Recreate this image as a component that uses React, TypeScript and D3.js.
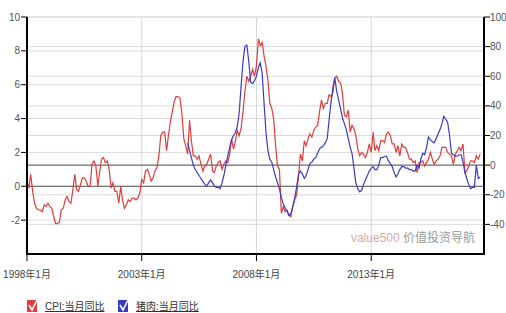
import React from "react";
import * as d3 from "d3";

// CPI 当月同比 (%), monthly from 1998-01 (left axis)
const CPI_START = new Date(1998, 0, 1);
const cpiValues = [
  0.3, -0.1, 0.7, -0.3, -1.0, -1.3, -1.4, -1.4, -1.5, -1.1, -1.2, -1.0,
  -1.2, -1.3, -1.8, -2.2, -2.2, -2.1, -1.4, -1.3, -0.8, -0.6, -0.9, -1.0,
  -0.2, 0.7, -0.2, -0.3, 0.1, 0.5, 0.5, 0.3, 0.0, 0.0, 1.3, 1.5,
  1.2, 0.0, 0.8, 1.6, 1.7, 1.4, 1.5, 1.0, -0.1, 0.2, -0.3, -0.3,
  -1.0, 0.0, -0.8, -1.3, -1.1, -0.8, -0.9, -0.7, -0.7, -0.8, -0.7, -0.4,
  0.4, 0.2, 0.9, 1.0, 0.7, 0.3, 0.5, 0.9, 1.1, 1.8, 3.0, 3.2,
  3.2, 2.1, 3.0, 3.8, 4.4, 5.0, 5.3, 5.3, 5.2, 4.3, 2.8, 2.4,
  1.9, 3.9, 2.7, 1.8, 1.8, 1.6, 1.8, 1.3, 0.9, 1.2, 1.3, 1.6,
  1.9, 0.9, 0.8, 1.2, 1.4, 1.5, 1.0, 1.3, 1.5, 1.4, 1.9, 2.8,
  2.2, 2.7, 3.3, 3.0, 3.4, 4.4, 5.6, 6.5, 6.2, 6.5, 6.9, 6.5,
  7.1, 8.7, 8.3, 8.5, 7.7, 7.1, 6.3, 4.9, 4.6, 4.0, 2.4, 1.2,
  1.0, -1.6, -1.2, -1.5, -1.4, -1.7, -1.8, -1.2, -0.8, -0.5, 0.6, 1.9,
  1.5, 2.7, 2.4, 2.8, 3.1, 2.9, 3.3, 3.5, 3.6, 4.4, 5.1, 4.6,
  4.9, 4.9, 5.4, 5.3, 5.5, 6.4, 6.5, 6.2, 6.1, 5.5, 4.2, 4.1,
  4.5, 3.2, 3.6, 3.4, 3.0, 2.2, 1.8, 2.0, 1.9, 1.7, 2.0, 2.5,
  2.0, 3.2, 2.1, 2.4, 2.1, 2.7, 2.7, 2.6, 3.1, 3.2, 3.0, 2.5,
  2.5, 2.0, 2.4, 1.8, 2.5, 2.3, 2.3, 2.0, 1.6, 1.6, 1.4, 1.5,
  0.8, 1.4, 1.4, 1.5, 1.2, 1.4, 1.6, 2.0, 1.6, 1.3, 1.5, 1.6,
  1.8, 2.3, 2.3, 2.3, 2.0, 1.9, 1.8, 1.3, 1.9, 2.1, 2.3, 2.1,
  2.5, 0.8, 0.9, 1.2, 1.5, 1.5, 1.4, 1.8, 1.6, 1.9,
];

// 猪肉 当月同比 (%), monthly from 2005-01 (right axis)
const PORK_START = new Date(2005, 0, 1);
const porkValues = [
  15, 10, 5, 0, -3, -5, -7, -9, -11, -13, -14, -12,
  -10, -12, -14, -15, -15, -16, -12, -7, 0, 6, 12, 17,
  20, 22, 26, 35, 53, 70, 80, 81, 70, 56, 55, 57,
  60, 66, 69, 62, 42, 22, 10, 4, 2, -3, -8, -12,
  -16, -22, -26, -29, -31, -34, -33, -28, -22, -15, -6, -4,
  -6, -9, -7, -3, 1, 2, 4, 5, 8, 11, 12, 13,
  15, 18, 30, 42, 52, 59, 50, 44, 38, 32, 28, 24,
  18, 12, 8, -2, -12, -16, -18, -17, -13, -10, -7, -4,
  -2, -1, -3, -3, 0, 5, 5, 6, 6, 3, 1, -1,
  -5, -8, -6, -3, -1, -1, -2, -2, -3, -3, -4, -4,
  0, -2, 4, 8, 7, 12, 19, 17, 16, 15, 18, 21,
  24, 28, 33, 31, 29, 20, 8, 7, 6, 6, 7, 7,
  2, -5, -9, -13, -16, -15, -15, 0, -9, -8,
];

const X_DOMAIN = [new Date(1998, 0, 1), new Date(2017, 11, 1)];
const xTicks = [new Date(1998, 0, 1), new Date(2003, 0, 1), new Date(2008, 0, 1), new Date(2013, 0, 1)];
const xTickLabels = ["1998年1月", "2003年1月", "2008年1月", "2013年1月"];
const leftTicks = [-2, 0, 2, 4, 6, 8, 10];
const rightTicks = [-40, -20, 0, 20, 40, 60, 80, 100];
const seriesNames = ["CPI:当月同比", "猪肉:当月同比"];
const seriesColors = ["#e23b3b", "#3a3ac8"];

const W = 506;
const H = 313;
const m = { left: 27, right: 22, top: 17, bottom: 59 };
const FONT = "'Liberation Sans', Arial, 'Noto Sans CJK SC', sans-serif";

export default function App() {
  const x = d3.scaleTime().domain(X_DOMAIN).range([m.left, W - m.right]);
  const yL = d3.scaleLinear().domain([-4, 10]).range([H - m.bottom, m.top]);
  const yR = d3.scaleLinear().domain([-60, 100]).range([H - m.bottom, m.top]);

  const cpi = cpiValues.map((v, i) => ({ date: d3.timeMonth.offset(CPI_START, i), v }));
  const pork = porkValues.map((v, i) => ({ date: d3.timeMonth.offset(PORK_START, i), v }));

  const cpiLine = d3.line<any>().x(d => x(d.date)).y(d => yL(d.v));
  const porkLine = d3.line<any>().x(d => x(d.date)).y(d => yR(d.v));

  const x0 = m.left, x1 = W - m.right;
  const yBottom = H - m.bottom;

  return (
    <svg width={W} height={H} style={{ position: "absolute", left: 0, top: 0, background: "#fff" }} fontFamily={FONT}>
      {/* gridlines */}
      {leftTicks.map(t => (
        <line key={"gl" + t} x1={x0} x2={x1} y1={yL(t)} y2={yL(t)} stroke="#dcdcdc" />
      ))}
      {rightTicks.map(t => (
        <line key={"gr" + t} x1={x0} x2={x1} y1={yR(t)} y2={yR(t)} stroke="#dcdcdc" />
      ))}
      {xTicks.slice(1).map((t, i) => (
        <line key={"gx" + i} x1={x(t)} x2={x(t)} y1={m.top} y2={yBottom} stroke="#d6d6d6" />
      ))}
      <line x1={x0} x2={x1} y1={yL(0)} y2={yL(0)} stroke="#555" />
      <line x1={x0} x2={x1} y1={yR(0)} y2={yR(0)} stroke="#555" />

      {/* series */}
      <path d={cpiLine(cpi) || ""} fill="none" stroke={seriesColors[0]} strokeWidth={1.2} />
      <path d={porkLine(pork) || ""} fill="none" stroke={seriesColors[1]} strokeWidth={1.2} />

      {/* axes */}
      <line x1={x0} x2={x0} y1={m.top} y2={yBottom + 1} stroke="#000" strokeWidth={2} />
      <line x1={x1} x2={x1} y1={m.top} y2={yBottom + 1} stroke="#000" strokeWidth={2} />
      <line x1={x0 - 1} x2={x1 + 1} y1={yBottom} y2={yBottom} stroke="#000" strokeWidth={2} />
      {leftTicks.map(t => (
        <g key={"lt" + t}>
          <line x1={x0 - 6} x2={x0} y1={yL(t)} y2={yL(t)} stroke="#000" />
          <text x={x0 - 7} y={yL(t)} dy="0.35em" textAnchor="end" fontSize={10} fill="#555">{t}</text>
        </g>
      ))}
      {rightTicks.map(t => (
        <g key={"rt" + t}>
          <line x1={x1} x2={x1 + 6} y1={yR(t)} y2={yR(t)} stroke="#000" />
          <text x={x1 + 6} y={yR(t)} dy="0.35em" textAnchor="start" fontSize={10} fill="#555">{t}</text>
        </g>
      ))}
      {xTicks.map((t, i) => (
        <g key={"xt" + i}>
          <line x1={x(t)} x2={x(t)} y1={yBottom} y2={yBottom + 7} stroke="#000" />
          <text x={x(t)} y={yBottom + 24} textAnchor="middle" fontSize={10} fill="#444">{xTickLabels[i]}</text>
        </g>
      ))}

      {/* watermark */}
      <text x={x1 - 9} y={yR(-40) + 18} textAnchor="end" fontSize={12}>
        <tspan fill="#d6a8a8">value500 </tspan>
        <tspan fill="#999">价值投资导航</tspan>
      </text>

      {/* legend */}
      {seriesNames.map((name, i) => {
        const lx = i === 0 ? 27 : 118;
        return (
          <g key={"lg" + i} transform={`translate(${lx},300)`}>
            <rect x={0} y={0} width={10} height={12} fill={seriesColors[i]} />
            <path d="M2,5 L5,10 L11,-2" fill="none" stroke="#fff" strokeWidth={1.6} />
            <text x={18} y={10} fontSize={10} fill="#333" textDecoration="underline">{name}</text>
          </g>
        );
      })}
    </svg>
  );
}
